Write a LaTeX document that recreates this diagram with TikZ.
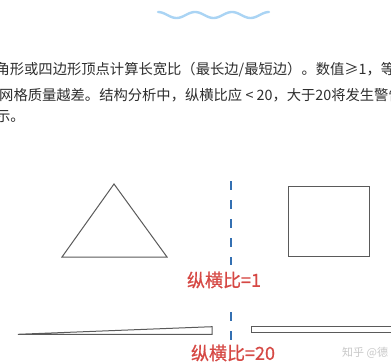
\documentclass[tikz,border=0pt]{standalone}
\usepackage{fontspec}
\newfontfamily\cjk{Noto Sans CJK SC}
\newfontfamily\cjkheavy[FakeBold=0.6]{Noto Sans CJK SC}
\definecolor{bodytext}{HTML}{2E2E2E}
\definecolor{labelred}{RGB}{214,72,68}
\definecolor{dashblue}{RGB}{52,112,178}
\definecolor{wavecol}{RGB}{170,212,244}
\definecolor{shapegray}{RGB}{90,90,90}
\definecolor{markgray}{RGB}{200,200,200}
\tikzset{
  bodyline/.style={anchor=west,inner sep=0pt,text=bodytext,font=\cjk\fontsize{14.3pt}{16pt}\selectfont},
  ratiolabel/.style={inner sep=0pt,text=labelred,font=\cjkheavy\fontsize{18pt}{20pt}\selectfont},
  divider/.style={draw=dashblue,line width=2.6pt,dash pattern=on 9pt off 10pt},
  outline/.style={draw=shapegray,line width=1pt},
  waveline/.style={draw=wavecol,line width=2.4pt,line cap=round}
}
\begin{document}
\begin{tikzpicture}[x=1pt,y=-1pt]
\useasboundingbox (0,0) rectangle (391,364);
\clip (0,0) rectangle (391,364);
\fill[white] (0,0) rectangle (391,364);
% wave
\draw[waveline] plot[domain=0:3,samples=90,smooth] ({158+37*\x},{15-3*cos(360*\x)});
% text
\node[bodyline] (l1) at (-4.6,70) {角形或四边形顶点计算长宽比（最长边/最短边）。数值≥1，等于};
\node[bodyline] (l2) at (-1,95) {网格质量越差。结构分析中，纵横比应 < 20，大于20将发生警告提示};
\node[bodyline] (l3) at (-4,117) {示。};
% dashed dividers
\coordinate (d1) at (231,181);
\coordinate (d2) at (231,265);
\coordinate (d3) at (231,312);
\coordinate (d4) at (231,345);
\draw[divider] (d1) -- (d2);
\draw[divider] (d3) -- (d4);
% shapes
\draw[outline] (114,184) -- (62,257) -- (167,257) -- cycle;
\draw[outline] (288,186) rectangle (369,256);
\draw[outline] (18,334.3) -- (212,326.7) -- (212,334.3) -- cycle;
\draw[outline] (251,326) rectangle (400,332.8);
% labels
\node[ratiolabel] (r1) at (224,280) {纵横比=1};
\node[ratiolabel] (r2) at (233,353) {纵横比=20};
\node[anchor=west,inner sep=0pt,text=markgray,font=\cjk\fontsize{11pt}{12pt}\selectfont] (wm) at (342,353) {知乎 @德};
\end{tikzpicture}
\end{document}
